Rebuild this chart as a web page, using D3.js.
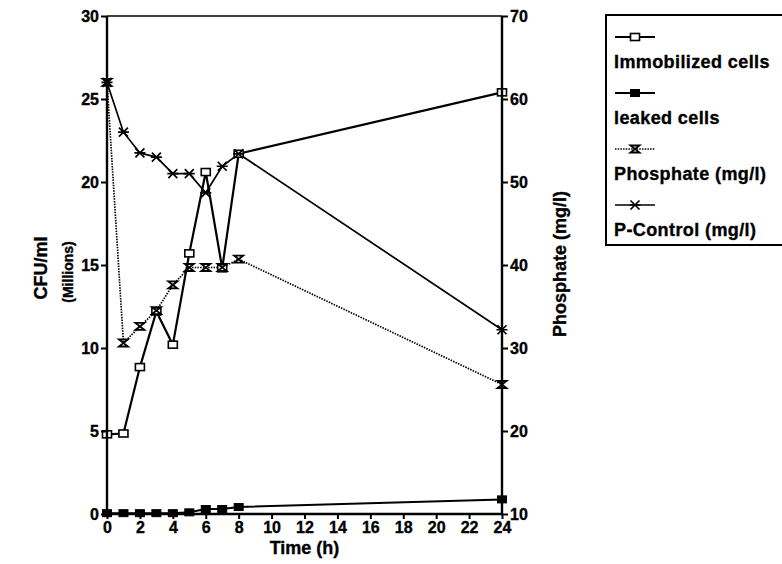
<!DOCTYPE html>
<html>
<head>
<meta charset="utf-8">
<script src="https://cdn.jsdelivr.net/npm/d3@7"></script>
<style>
  body { margin: 0; background: #fff; }
  text { font-family: "Liberation Sans", Arial, sans-serif; font-weight: bold; fill: #000; stroke: #000; stroke-width: 0.35px; }
</style>
</head>
<body>
<div id="chart"></div>
<script>
// Data
const hours = [0, 1, 2, 3, 4, 5, 6, 7, 8, 24];
const immobilized = [4.8, 4.85, 8.85, 12.2, 10.2, 15.7, 20.6, 14.8, 21.7, 25.4];   // millions CFU/ml
const leaked = [0.05, 0.05, 0.05, 0.05, 0.05, 0.1, 0.3, 0.3, 0.42, 0.88];          // millions CFU/ml
const phosphate = [62, 30.6, 32.6, 34.5, 37.6, 39.7, 39.7, 39.7, 40.7, 25.6];      // mg/l
const pControl = [62, 56, 53.5, 53, 51, 51, 48.7, 51.9, 53.4, 32.2];               // mg/l
const xTicks = [0, 2, 4, 6, 8, 10, 12, 14, 16, 18, 20, 22, 24];
const leftTicks = [0, 5, 10, 15, 20, 25, 30];
const rightTicks = [10, 20, 30, 40, 50, 60, 70];
const legendLabels = ["Immobilized cells", "leaked cells", "Phosphate (mg/l)", "P-Control (mg/l)"];

const width = 782, height = 564;
const margin = { top: 16, left: 107, right: 280, bottom: 50 };

const svg = d3.select("#chart").append("svg")
  .attr("width", width)
  .attr("height", height);

// Scales
const x = d3.scaleLinear().domain([0, 24]).range([margin.left, width - margin.right]);
const yL = d3.scaleLinear().domain([0, 30]).range([height - margin.bottom, margin.top]);
const yR = d3.scaleLinear().domain([10, 70]).range([height - margin.bottom, margin.top]);

// Marker shapes
function marker(g, type, cx, cy) {
  const s = 4.5;
  if (type === "open") {
    g.append("rect").attr("x", cx - s).attr("y", cy - s + 1).attr("width", 2 * s).attr("height", 2 * s - 2)
      .attr("fill", "#fff").attr("stroke", "#000").attr("stroke-width", 1.6);
  } else if (type === "filled") {
    g.append("rect").attr("x", cx - s).attr("y", cy - s + 1).attr("width", 2 * s).attr("height", 2 * s - 2)
      .attr("fill", "#000").attr("stroke", "#000").attr("stroke-width", 1);
  } else if (type === "hourglass") {
    g.append("path")
      .attr("d", `M${cx - s},${cy - 3.5}H${cx + s}L${cx - s},${cy + 3.5}H${cx + s}Z`)
      .attr("fill", "none").attr("stroke", "#000").attr("stroke-width", 1.8);
  } else {
    g.append("path")
      .attr("d", `M${cx - s},${cy - s}L${cx + s},${cy + s}M${cx - s},${cy + s}L${cx + s},${cy - s}M${cx - s - 1},${cy}H${cx + s + 1}`)
      .attr("fill", "none").attr("stroke", "#000").attr("stroke-width", 1.7);
  }
}

const series = [
  { values: immobilized, y: yL, type: "open", width: 2.2, dash: null },
  { values: leaked, y: yL, type: "filled", width: 2, dash: null },
  { values: phosphate, y: yR, type: "hourglass", width: 1.7, dash: "1.5,1.2" },
  { values: pControl, y: yR, type: "star", width: 1.7, dash: null }
];

// Lines
series.forEach(s => {
  const line = d3.line()
    .x((d, i) => x(hours[i]))
    .y(d => s.y(d));
  svg.append("path")
    .datum(s.values)
    .attr("fill", "none")
    .attr("stroke", "#000")
    .attr("stroke-width", s.width)
    .attr("stroke-dasharray", s.dash)
    .attr("d", line);
});

// Markers
series.forEach(s => {
  const g = svg.append("g");
  s.values.forEach((v, i) => marker(g, s.type, x(hours[i]), s.y(v)));
});

// Axes
const fmt = d3.format("d");
const bottomAxis = svg.append("g")
  .attr("transform", `translate(0, ${height - margin.bottom})`)
  .call(d3.axisBottom(x).tickValues(xTicks).tickSize(5).tickPadding(3).tickFormat(fmt));

const leftAxis = svg.append("g")
  .attr("transform", `translate(${margin.left}, 0)`)
  .call(d3.axisLeft(yL).tickValues(leftTicks).tickSize(6).tickPadding(2).tickFormat(fmt));

const rightAxis = svg.append("g")
  .attr("transform", `translate(${width - margin.right}, 0)`)
  .call(d3.axisRight(yR).tickValues(rightTicks).tickSize(6).tickPadding(2).tickFormat(fmt));

[bottomAxis, leftAxis, rightAxis].forEach(a => {
  a.select(".domain").attr("stroke", "#000").attr("stroke-width", 2.4);
  a.selectAll(".tick line").attr("stroke", "#000").attr("stroke-width", 2);
  a.selectAll(".tick text")
    .attr("font-family", "'Liberation Sans', Arial, sans-serif")
    .attr("font-weight", "bold")
    .attr("font-size", 16)
    .attr("fill", "#000");
});
bottomAxis.select(".domain").attr("d", `M${margin.left},0H${width - margin.right}`);
leftAxis.select(".domain").attr("d", `M0,${yL(0)}V${yL(30)}`);
rightAxis.select(".domain").attr("d", `M0,${yR(10)}V${yR(70)}`);

// Top frame line
svg.append("line")
  .attr("x1", margin.left).attr("x2", width - margin.right)
  .attr("y1", margin.top).attr("y2", margin.top)
  .attr("stroke", "#000").attr("stroke-width", 1.6);

// Axis titles
svg.append("text")
  .attr("x", (margin.left + width - margin.right) / 2)
  .attr("y", 554)
  .attr("text-anchor", "middle")
  .attr("font-size", 18)
  .text("Time (h)");

svg.append("text")
  .attr("transform", "translate(47, 268) rotate(-90)")
  .attr("text-anchor", "middle")
  .attr("font-size", 18)
  .text("CFU/ml");

svg.append("text")
  .attr("transform", "translate(73, 272) rotate(-90)")
  .attr("text-anchor", "middle")
  .attr("font-size", 14)
  .text("(Millions)");

svg.append("text")
  .attr("transform", "translate(566, 264) rotate(-90)")
  .attr("text-anchor", "middle")
  .attr("font-size", 18)
  .text("Phosphate (mg/l)");

// Legend
const legend = svg.append("g");
legend.append("rect")
  .attr("x", 606).attr("y", 15)
  .attr("width", 200).attr("height", 230)
  .attr("fill", "none")
  .attr("stroke", "#000")
  .attr("stroke-width", 2);

legendLabels.forEach((label, i) => {
  const s = series[i];
  const ly = 37 + i * 56;
  legend.append("line")
    .attr("x1", 615).attr("x2", 655)
    .attr("y1", ly).attr("y2", ly)
    .attr("stroke", "#000")
    .attr("stroke-width", s.width)
    .attr("stroke-dasharray", s.dash);
  marker(legend, s.type, 635, ly);
  legend.append("text")
    .attr("x", 614)
    .attr("y", ly + 31)
    .attr("font-size", 18)
    .attr("letter-spacing", 0.4)
    .text(label);
});
</script>
</body>
</html>
